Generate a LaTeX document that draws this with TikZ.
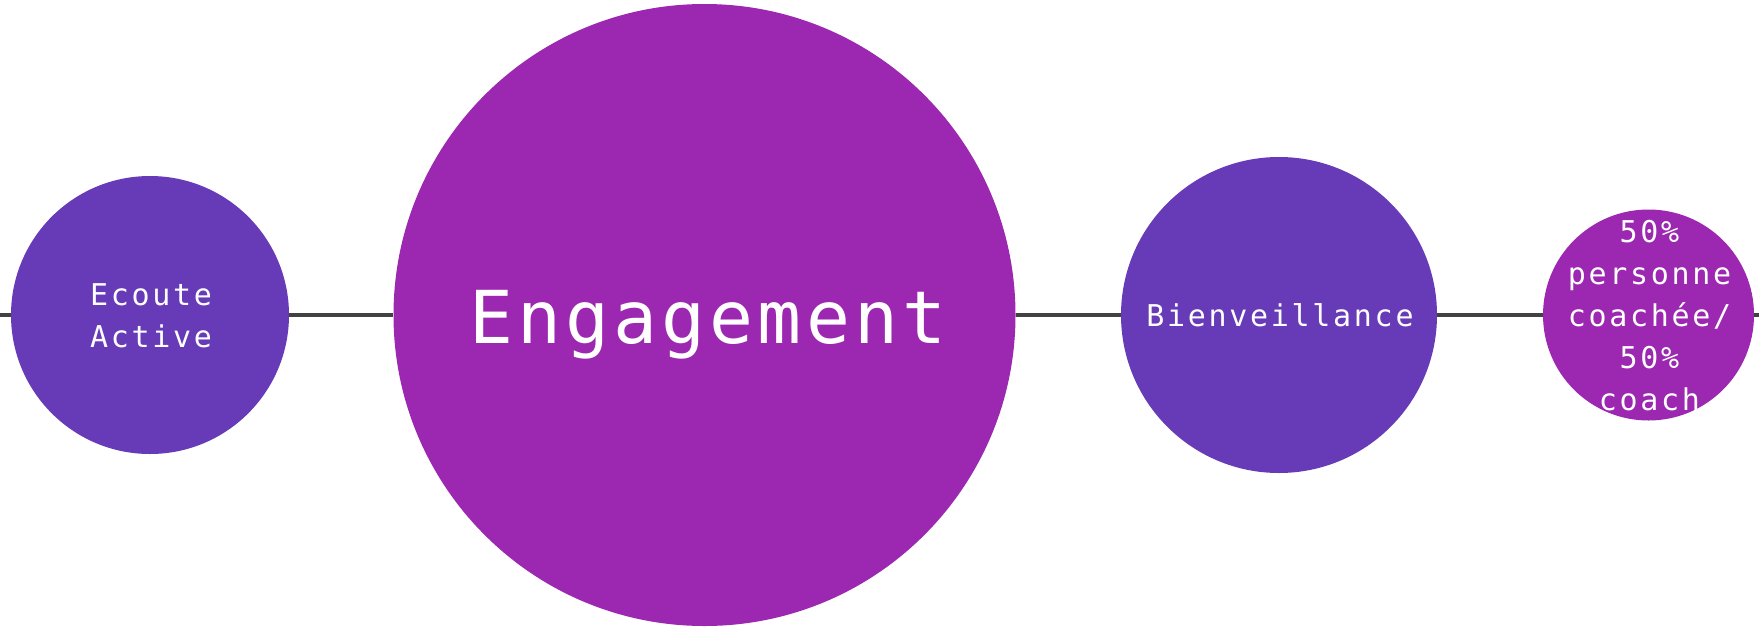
\documentclass[tikz,border=0pt]{standalone}
\usepackage{fontspec}
\newfontfamily\labfont[LetterSpace=9]{DejaVu Sans Mono}
\newfontfamily\bigfont[LetterSpace=5.6]{DejaVu Sans Mono}
\definecolor{deeppurple}{HTML}{673AB7}
\definecolor{purplec}{HTML}{9C27B0}
\definecolor{linegray}{HTML}{424242}
\begin{document}
\begin{tikzpicture}[x=1pt,y=-1pt,
  bubble/.style={circle,draw=none,inner sep=0pt},
  conn/.style={draw=linegray,line width=3.5pt},
  lab/.style={text=white,align=center,inner sep=0pt,font=\labfont\fontsize{30}{42}\selectfont},
  biglab/.style={text=white,inner sep=0pt,font=\bigfont\fontsize{73}{80}\selectfont}]
\useasboundingbox (0,0) rectangle (1759,627);
\node[bubble,fill=deeppurple,minimum size=278pt] (c1) at (150,315) {};
\node[bubble,fill=purplec,minimum size=622pt] (c2) at (704.5,315) {};
\node[bubble,fill=deeppurple,minimum size=316pt] (c3) at (1279,315) {};
\node[bubble,fill=purplec,minimum size=211pt] (c4) at (1648.5,315) {};
\coordinate (lend) at (0,315);
\coordinate (rend) at (1759,315);
\draw[conn] (lend) -- (c1.west);
\draw[conn] (c1.east) -- (c2.west);
\draw[conn] (c2.east) -- (c3.west);
\draw[conn] (c3.east) -- (c4.west);
\draw[conn] (c4.east) -- (rend);
\node[lab] (t1) at (151,316) {Ecoute\\Active};
\node[biglab,anchor=base] (t2) at (708,343) {Engagement};
\node[lab] (t3) at (1280,315) {Bienveillance};
\node[lab] (t4) at (1649.5,316) {50\%\\personne\\coachée/\\50\%\\coach};
\end{tikzpicture}
\end{document}
